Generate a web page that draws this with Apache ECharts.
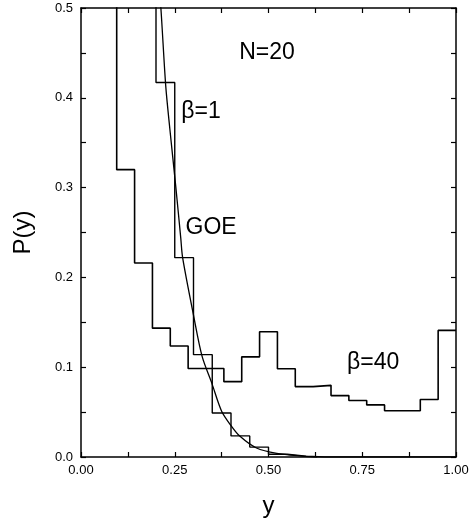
<!DOCTYPE html>
<html>
<head>
<meta charset="utf-8">
<script src="https://cdn.jsdelivr.net/npm/echarts@6/dist/echarts.min.js"></script>
<style>
html,body{margin:0;padding:0;background:#fff;}
#chart{width:473px;height:523px;}
</style>
</head>
<body>
<div id="chart"></div>
<script>
// beta = 40 histogram: 21 bins (left edges) and heights
var beta40Edges = [0.0000, 0.0476, 0.0952, 0.1429, 0.1905, 0.2381, 0.2857, 0.3333, 0.3810, 0.4286, 0.4762,
                   0.5238, 0.5714, 0.6190, 0.6667, 0.7143, 0.7619, 0.8095, 0.8571, 0.9048, 0.9524, 1.0000];
var beta40Values = [0.78, 0.62, 0.320, 0.216, 0.1435, 0.1236, 0.0986, 0.0986, 0.0839, 0.1115, 0.1394,
                    0.0982, 0.0784, 0.0798, 0.0684, 0.0629, 0.0580, 0.0515, 0.0515, 0.0640, 0.141];
// beta = 1 histogram: 20 bins (left edges) and heights
var beta1Edges = [0.00, 0.05, 0.10, 0.15, 0.20, 0.25, 0.30, 0.35, 0.40, 0.45, 0.50,
                  0.55, 0.60, 0.65, 0.70, 0.75, 0.80, 0.85, 0.90, 0.95, 1.00];
var beta1Values = [0.90, 0.95, 1.10, 0.80, 0.417, 0.222, 0.114, 0.049, 0.0235, 0.011, 0.003,
                   0.001, 0, 0, 0, 0, 0, 0, 0, 0];
// GOE curve
var goeX = [0.205, 0.213, 0.226, 0.237, 0.253, 0.266, 0.271, 0.300, 0.323, 0.349, 0.375, 0.400, 0.424, 0.468, 0.522, 0.590, 0.630];
var goeY = [0.540, 0.500, 0.413, 0.365, 0.300, 0.244, 0.222, 0.158, 0.112, 0.082, 0.051, 0.035, 0.023, 0.010, 0.004, 0.001, 0.000];
// tick labels
var xTicks = [0, 0.25, 0.5, 0.75, 1.0];
var yTicks = [0, 0.1, 0.2, 0.3, 0.4, 0.5];
// annotations
var annText = ['N=20', 'β=1', 'GOE', 'β=40'];
var annX = [0.496, 0.320, 0.347, 0.779];
var annY = [0.450, 0.385, 0.255, 0.105];

function histPoints(edges, values) {
  var pts = [];
  for (var i = 0; i < values.length; i++) pts.push([edges[i], values[i]]);
  pts.push([edges[values.length], values[values.length - 1]]);
  return pts;
}
var goeData = goeX.map(function (x, i) { return [x, goeY[i]]; });

var chart = echarts.init(document.getElementById('chart'));
var FONT = 'Liberation Sans, Arial, sans-serif';
var axisCommon = {
  type: 'value',
  axisLine: { show: true, onZero: false, lineStyle: { color: '#000', width: 1.5 } },
  axisTick: { show: true, inside: true, length: 5, lineStyle: { color: '#000', width: 1.2 } },
  minorTick: { show: true, splitNumber: 2, length: 5, lineStyle: { color: '#000', width: 1.2 } },
  splitLine: { show: false },
  minorSplitLine: { show: false }
};
function mk(extra) { return Object.assign({}, JSON.parse(JSON.stringify(axisCommon)), extra); }

var option = {
  animation: false,
  backgroundColor: '#fff',
  grid: { left: 81, right: 17, top: 8, bottom: 62, containLabel: false },
  xAxis: [
    mk({ min: xTicks[0], max: xTicks[xTicks.length - 1], interval: 0.25, position: 'bottom',
      name: 'y', nameLocation: 'middle', nameGap: 37,
      nameTextStyle: { fontFamily: FONT, fontSize: 24, color: '#000' },
      axisLabel: { show: true, margin: 7, fontFamily: FONT, fontSize: 13, color: '#000',
        formatter: function (v) { return v.toFixed(2); } } }),
    mk({ min: xTicks[0], max: xTicks[xTicks.length - 1], interval: 0.25, position: 'top',
      axisLabel: { show: false } })
  ],
  yAxis: [
    mk({ min: yTicks[0], max: yTicks[yTicks.length - 1], interval: 0.1, position: 'left',
      name: 'P(y)', nameLocation: 'middle', nameGap: 46,
      nameTextStyle: { fontFamily: FONT, fontSize: 24, color: '#000' },
      axisLabel: { show: true, margin: 8, fontFamily: FONT, fontSize: 13, color: '#000',
        formatter: function (v) { return v.toFixed(1); } } }),
    mk({ min: yTicks[0], max: yTicks[yTicks.length - 1], interval: 0.1, position: 'right',
      axisLabel: { show: false } })
  ],
  series: [
    { type: 'line', data: histPoints(beta40Edges, beta40Values), step: 'end', symbol: 'none', clip: true,
      lineStyle: { color: '#000', width: 1.6 } },
    { type: 'line', data: histPoints(beta1Edges, beta1Values), step: 'end', symbol: 'none', clip: true,
      lineStyle: { color: '#000', width: 1.4 } },
    { type: 'line', data: goeData, smooth: 0.3, symbol: 'none', clip: true,
      lineStyle: { color: '#000', width: 1.3 } }
  ]
};
chart.setOption(option);

var g = annText.map(function (t, i) {
  var p = chart.convertToPixel({ xAxisIndex: 0, yAxisIndex: 0 }, [annX[i], annY[i]]);
  return { type: 'text', x: p[0], y: p[1], z: 10,
    style: { text: t, fill: '#000', font: '23px ' + FONT, textAlign: 'center', textVerticalAlign: 'middle' } };
});
chart.setOption({ graphic: g });
</script>
</body>
</html>
